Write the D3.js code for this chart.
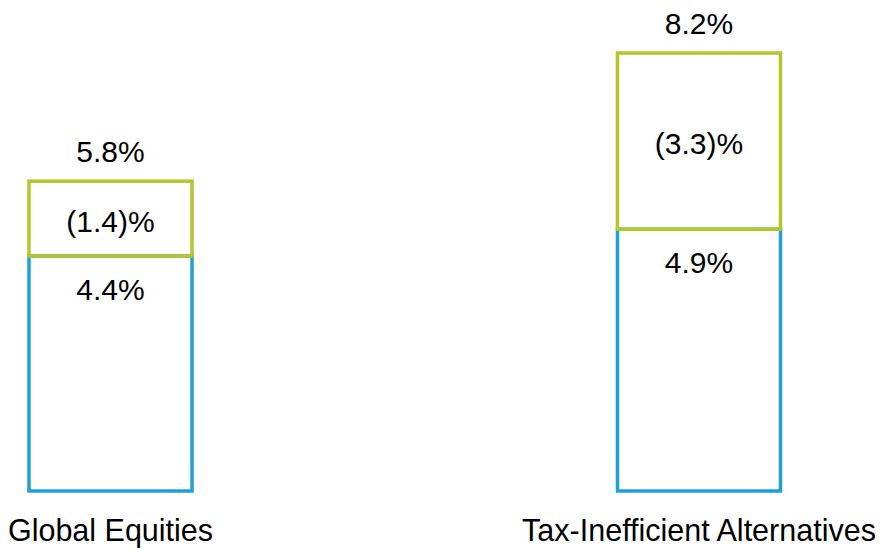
<!DOCTYPE html>
<html>
<head>
<meta charset="utf-8">
<script src="https://cdn.jsdelivr.net/npm/d3@7"></script>
<style>
  html, body { margin: 0; padding: 0; background: #fff; }
  svg { display: block; }
</style>
</head>
<body>
<svg id="chart" width="880" height="549"></svg>
<script>
const categories = ["Global Equities", "Tax-Inefficient Alternatives"];
const afterTax = [4.4, 4.9];
const taxDrag = [1.4, 3.3];
const preTax = [5.8, 8.2];
const afterTaxLabels = ["4.4%", "4.9%"];
const taxDragLabels = ["(1.4)%", "(3.3)%"];
const preTaxLabels = ["5.8%", "8.2%"];

const svg = d3.select("#chart");
const blue = "#1f9fdc", green = "#b3c62a";
const font = "'Liberation Sans', Arial, Helvetica, sans-serif";
const valueSize = 30;

const x = d3.scaleBand().domain(categories).range([29, 780.5]).paddingInner(0.723).paddingOuter(0);
const y = d3.scaleLinear().domain([0, 8.2]).range([491, 53]);

const data = categories.map((c, i) => ({
  cat: c, after: afterTax[i], drag: taxDrag[i], pre: preTax[i],
  aL: afterTaxLabels[i], dL: taxDragLabels[i], pL: preTaxLabels[i]
}));

const g = svg.append("g");

g.selectAll("rect.blue").data(data).join("rect")
  .attr("class", "blue")
  .attr("x", d => x(d.cat))
  .attr("width", x.bandwidth())
  .attr("y", d => y(d.after))
  .attr("height", d => y(0) - y(d.after))
  .attr("fill", "none")
  .attr("stroke", blue)
  .attr("stroke-width", 3.5);

g.selectAll("rect.green").data(data).join("rect")
  .attr("class", "green")
  .attr("x", d => x(d.cat))
  .attr("width", x.bandwidth())
  .attr("y", d => y(d.pre))
  .attr("height", d => y(d.after) - y(d.pre))
  .attr("fill", "none")
  .attr("stroke", green)
  .attr("stroke-width", 3.5);

const cx = d => x(d.cat) + x.bandwidth() / 2;

g.selectAll("text.pre").data(data).join("text")
  .attr("class", "pre")
  .attr("x", cx)
  .attr("y", d => y(d.pre) - 19)
  .attr("text-anchor", "middle")
  .attr("font-family", font).attr("font-size", valueSize).attr("fill", "#000")
  .text(d => d.pL);

g.selectAll("text.drag").data(data).join("text")
  .attr("class", "drag")
  .attr("x", cx)
  .attr("y", d => (y(d.pre) + y(d.after)) / 2 + 13)
  .attr("text-anchor", "middle")
  .attr("font-family", font).attr("font-size", valueSize).attr("fill", "#000")
  .text(d => d.dL);

g.selectAll("text.after").data(data).join("text")
  .attr("class", "after")
  .attr("x", cx)
  .attr("y", d => y(d.after) + 44)
  .attr("text-anchor", "middle")
  .attr("font-family", font).attr("font-size", valueSize).attr("fill", "#000")
  .text(d => d.aL);

const xAxis = d3.axisBottom(x).tickSize(0).tickPadding(0);
const ax = svg.append("g").attr("transform", "translate(0,519)").call(xAxis);
ax.select(".domain").remove();
ax.selectAll("text")
  .attr("font-family", font).attr("font-size", 30.5).attr("fill", "#000")
  .attr("dy", "0.73em");
</script>
</body>
</html>
